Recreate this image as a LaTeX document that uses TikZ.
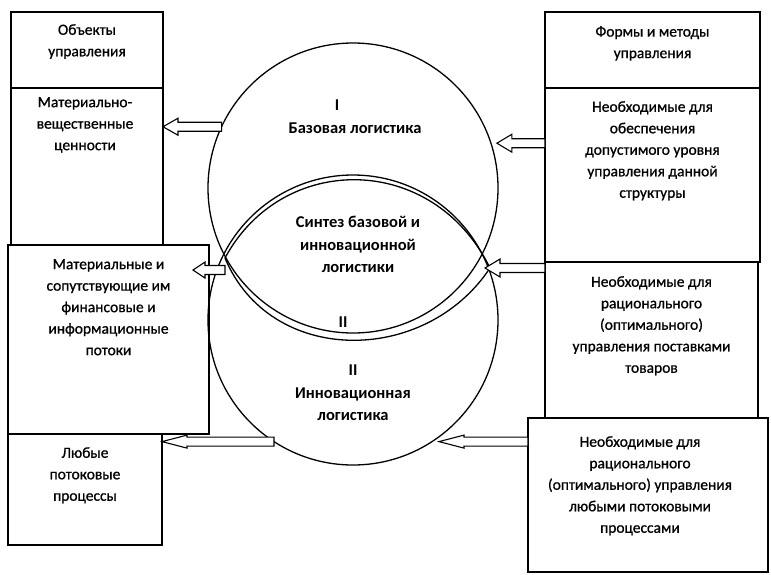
\documentclass[tikz,border=0pt]{standalone}
\usepackage{fontspec}
\setmainfont{Carlito}
\newfontfamily\boxfont[FakeBold=0.8]{Carlito}
\usetikzlibrary{calc}
\newcommand\hollowarrow[4]{% #1 tail, #2 tip (x only), #3 head length, #4 head half width
  \draw[harrow] let \p1=(#1), \p2=(#2) in
    (\x2,\y1) -- (\x2+#3pt,\y1+#4pt) -- (\x2+#3pt,\y1+4.5pt) -- (\x1,\y1+4.5pt)
    -- (\x1,\y1-4.5pt) -- (\x2+#3pt,\y1-4.5pt) -- (\x2+#3pt,\y1-#4pt) -- cycle;}
\begin{document}
\begin{tikzpicture}[x=1pt,y=-1pt,
  box/.style={draw, line width=1.1pt, inner sep=0pt, outer sep=0pt},
  boxtext/.style={anchor=north, align=center, inner sep=0pt, font=\boxfont\fontsize{15.5}{21.5}\selectfont},
  ctext/.style={align=center, inner sep=0pt, font=\bfseries\fontsize{16.5}{22.5}\selectfont},
  bigcircle/.style={draw, circle, line width=1.3pt, minimum size=290pt, inner sep=0pt, outer sep=0pt},
  lens/.style={draw, line width=1.3pt},
  harrow/.style={draw, line width=1.1pt, fill=white, line join=miter}]
\useasboundingbox[fill=white] (0,0) rectangle (771,574);

% circles
\node[bigcircle] (cI) at (353,188) {};
\node[bigcircle] (cII) at (353,320) {};
\coordinate (lensL) at (225,258);
\coordinate (lensR) at (490,268);
\draw[lens] (lensL) .. controls (282,152) and (433,152) .. (lensR)
  .. controls (425,366) and (270,366) .. (lensL);

% boxes left
\node[box, minimum width=152pt, minimum height=76pt] (L1) at (87,50) {};
\node[box, minimum width=152pt, minimum height=157pt] (L2) at (87,166.5) {};
\node[box, minimum width=201pt, minimum height=189pt] (L3) at (108.5,339.5) {};
\node[box, minimum width=154pt, minimum height=111pt] (L4) at (85,489.5) {};
% boxes right
\node[box, minimum width=215pt, minimum height=76pt] (R1) at (652.5,50) {};
\node[box, minimum width=215pt, minimum height=174pt] (R2) at (652.5,175) {};
\node[box, minimum width=213pt, minimum height=156pt] (R3) at (651.5,340) {};
\node[box, minimum width=240pt, minimum height=154pt] (R4) at (648,495) {};

% box texts
\node[boxtext] (tL1) at ([yshift=-12pt]L1.north) {Объекты\\управления};
\node[boxtext] (tL2) at ([xshift=-2pt,yshift=-9pt]L2.north) {Материально-\\вещественные\\ценности};
\node[boxtext] (tL3) at ([yshift=-14pt]L3.north) {Материальные и\\сопутствующие им\\финансовые и\\информационные\\потоки};
\node[boxtext] (tL4) at ([yshift=-13pt]L4.north) {Любые\\потоковые\\процессы};
\node[boxtext] (tR1) at ([yshift=-14pt]R1.north) {Формы и методы\\управления};
\node[boxtext] (tR2) at ([yshift=-13pt]R2.north) {Необходимые для\\обеспечения\\допустимого уровня\\управления данной\\структуры};
\node[boxtext] (tR3) at ([yshift=-14pt]R3.north) {Необходимые для\\рационального\\(оптимального)\\управления поставками\\товаров};
\node[boxtext] (tR4) at ([xshift=-8pt,yshift=-18pt]R4.north) {Необходимые для\\рационального\\(оптимального) управления\\любыми потоковыми\\процессами};

% circle texts
\node[ctext, anchor=base] (tI) at (337,110) {I};
\node[ctext, anchor=base] (tIb) at (355,133) {Базовая логистика};
\node[ctext, anchor=north] (tS) at (358,216) {Синтез базовой и\\инновационной\\логистики};
\node[ctext, anchor=base] (tSII) at (343,327) {II};
\node[ctext, anchor=north] (tII) at (353,365) {II\\Инновационная\\логистика};

% arrows
\coordinate (a1t) at (cI.155);
\hollowarrow{a1t}{L2.east}{15}{8.5}
\coordinate (a2h) at ([xshift=6pt]cI.18);
\hollowarrow{R2.west |- a2h}{a2h}{15}{9}
\coordinate (a3t) at ([yshift=-12pt]lensL);
\path (L3.east) ++(-16,0) coordinate (a3h);
\hollowarrow{a3t}{a3h}{12}{8}
\coordinate (a4h) at ([xshift=-5pt,yshift=0pt]lensR);
\hollowarrow{R3.west |- a4h}{a4h}{15}{9}
\coordinate (a5t) at (cII.237.4);
\hollowarrow{a5t}{L4.east}{25}{6.5}
\coordinate (a6h) at ([xshift=7pt]cII.-57.4);
\hollowarrow{R4.west |- a6h}{a6h}{25}{6.5}
\end{tikzpicture}
\end{document}
